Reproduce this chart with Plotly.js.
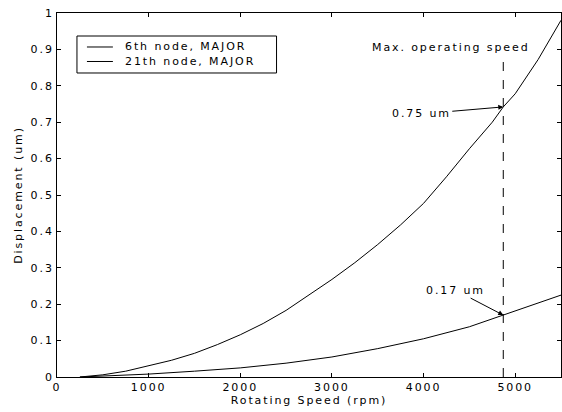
<!DOCTYPE html>
<html><head><meta charset="utf-8">
<script src="https://cdn.plot.ly/plotly-3.0.1.min.js"></script>
<style>html,body{margin:0;padding:0;background:#fff}
text{letter-spacing:1.9px}</style>
</head><body>
<div id="chart" style="width:562px;height:412px"></div>
<script>
const speed6 = [250, 500, 750, 1000, 1250, 1500, 1750, 2000, 2250, 2500, 2750, 3000, 3250, 3500, 3750, 4000, 4250, 4500, 4750, 4870, 5000, 5250, 5500];
const disp6  = [0, 0.006, 0.016, 0.03, 0.046, 0.065, 0.089, 0.116, 0.147, 0.183, 0.225, 0.268, 0.314, 0.364, 0.418, 0.477, 0.55, 0.627, 0.7, 0.742, 0.778, 0.872, 0.98];
const speed21 = [250, 500, 750, 1000, 1500, 2000, 2500, 3000, 3500, 4000, 4500, 4870, 5000, 5250, 5500];
const disp21  = [0, 0.002, 0.004, 0.008, 0.016, 0.025, 0.038, 0.055, 0.078, 0.105, 0.138, 0.17, 0.18, 0.202, 0.225];
const seriesNames = ["6th node, MAJOR", "21th node, MAJOR"];
const maxSpeed = 4870;
const xTicks = [0, 1000, 2000, 3000, 4000, 5000];
const yTicks = [0, 0.1, 0.2, 0.3, 0.4, 0.5, 0.6, 0.7, 0.8, 0.9, 1];
const yTickText = ["0", "0.1", "0.2", "0.3", "0.4", "0.5", "0.6", "0.7", "0.8", "0.9", "1"];

const font = {family: "DejaVu Sans, Arial, sans-serif", size: 11, color: "#000"};
const traces = [
  {x: speed6, y: disp6, name: seriesNames[0], mode: "lines", line: {color: "#000", width: 1}},
  {x: speed21, y: disp21, name: seriesNames[1], mode: "lines", line: {color: "#000", width: 1}}
];
const axisCommon = {showline: true, linecolor: "#000", linewidth: 1, mirror: "allticks",
  ticks: "inside", ticklen: 4, tickcolor: "#000", showgrid: false, zeroline: false, tickfont: font};

// legend drawn as a box in paper coordinates
const legBox = {x0: 0.0396, x1: 0.4356, y0: 0.8352, y1: 0.9368};
const legRows = [0.9066, 0.8668];
const legendShapes = [{type: "rect", xref: "paper", yref: "paper", x0: legBox.x0, x1: legBox.x1, y0: legBox.y0, y1: legBox.y1,
  line: {color: "#000", width: 1}, fillcolor: "#fff", layer: "above"}];
const legendTexts = [];
legRows.forEach((ry, i) => {
  legendShapes.push({type: "line", xref: "paper", yref: "paper", x0: 0.0594, x1: 0.1109, y0: ry, y1: ry,
    line: {color: traces[i].line.color, width: 1}, layer: "above"});
  legendTexts.push({xref: "paper", yref: "paper", x: 0.1307, y: ry, xanchor: "left", yanchor: "middle",
    text: seriesNames[i], showarrow: false, font: font});
});

const layout = {
  width: 562, height: 412,
  margin: {l: 57, r: 1, t: 13, b: 35},
  paper_bgcolor: "#fff", plot_bgcolor: "#fff",
  font: font,
  showlegend: false,
  xaxis: Object.assign({}, axisCommon, {range: [0, 5500], tickvals: xTicks,
    title: {text: "Rotating Speed (rpm)", font: font, standoff: 2}}),
  yaxis: Object.assign({}, axisCommon, {range: [0, 1], tickvals: yTicks, ticktext: yTickText,
    title: {text: "Displacement (um)", font: font, standoff: 5}}),
  shapes: [{type: "line", xref: "x", yref: "y", x0: maxSpeed, x1: maxSpeed, y0: 0, y1: 0.875,
    line: {color: "#000", width: 1, dash: "dash"}}].concat(legendShapes),
  annotations: [
    {xref: "x", yref: "y", x: 4300, y: 0.906, text: "Max. operating speed", showarrow: false, font: font},
    {xref: "x", yref: "y", x: maxSpeed, y: disp6[19], text: "0.75 um", showarrow: true,
      arrowhead: 2, arrowsize: 1, arrowwidth: 1, arrowcolor: "#000", ax: -82, ay: 7, font: font},
    {xref: "x", yref: "y", x: maxSpeed, y: disp21[11], text: "0.17 um", showarrow: true,
      arrowhead: 2, arrowsize: 1, arrowwidth: 1, arrowcolor: "#000", ax: -48, ay: -25, font: font}
  ].concat(legendTexts)
};
Plotly.newPlot("chart", traces, layout, {staticPlot: true});
</script>
</body></html>
